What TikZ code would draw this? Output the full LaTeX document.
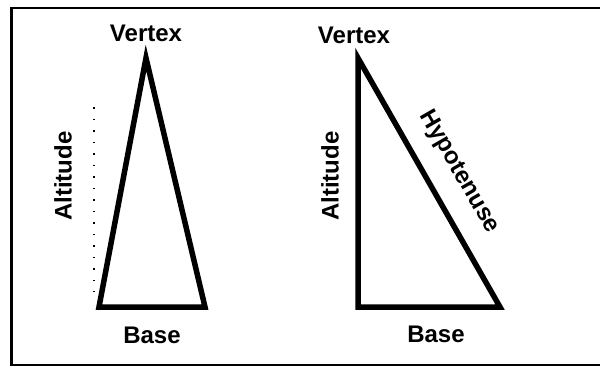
\documentclass[tikz,border=0pt]{standalone}
\usepackage{fontspec}
\setmainfont{Liberation Sans}
\begin{document}
\begin{tikzpicture}[x=1pt,y=-1pt,
  lbl/.style={font=\bfseries\fontsize{24}{28}\selectfont, inner sep=0pt},
  tri/.style={line width=5.5pt, line join=miter},
  frame/.style={line width=2.6pt}]
\useasboundingbox (0,0) rectangle (600,368);
% frame (right side runs off the picture)
\draw[frame] (11.5,8) rectangle (603,365);
% left triangle
\coordinate (LA) at (146,58);
\coordinate (LB) at (99,307);
\coordinate (LC) at (205,307);
\draw[tri] (LA) -- (LB) -- (LC) -- cycle;
\coordinate (D1) at (94,107);
\coordinate (D2) at (94,292);
\draw[line width=1.5pt, dash pattern=on 1.5pt off 10pt] (D1) -- (D2);
\node[lbl] (vl) at (146,33.5) {Vertex};
\node[lbl, rotate=90] (al) at (63,176) {Altitude};
\node[lbl] (bl) at (152,335.5) {Base};
% right triangle
\coordinate (RA) at (358,58);
\coordinate (RB) at (358,307);
\coordinate (RC) at (500,307);
\draw[tri] (RA) -- (RB) -- (RC) -- cycle;
\node[lbl] (vr) at (354,35.5) {Vertex};
\node[lbl, rotate=90] (ar) at (330,176) {Altitude};
\node[lbl] (br) at (436,334) {Base};
\node[lbl, rotate=-60] (hy) at (459,172) {Hypotenuse};
\end{tikzpicture}
\end{document}
